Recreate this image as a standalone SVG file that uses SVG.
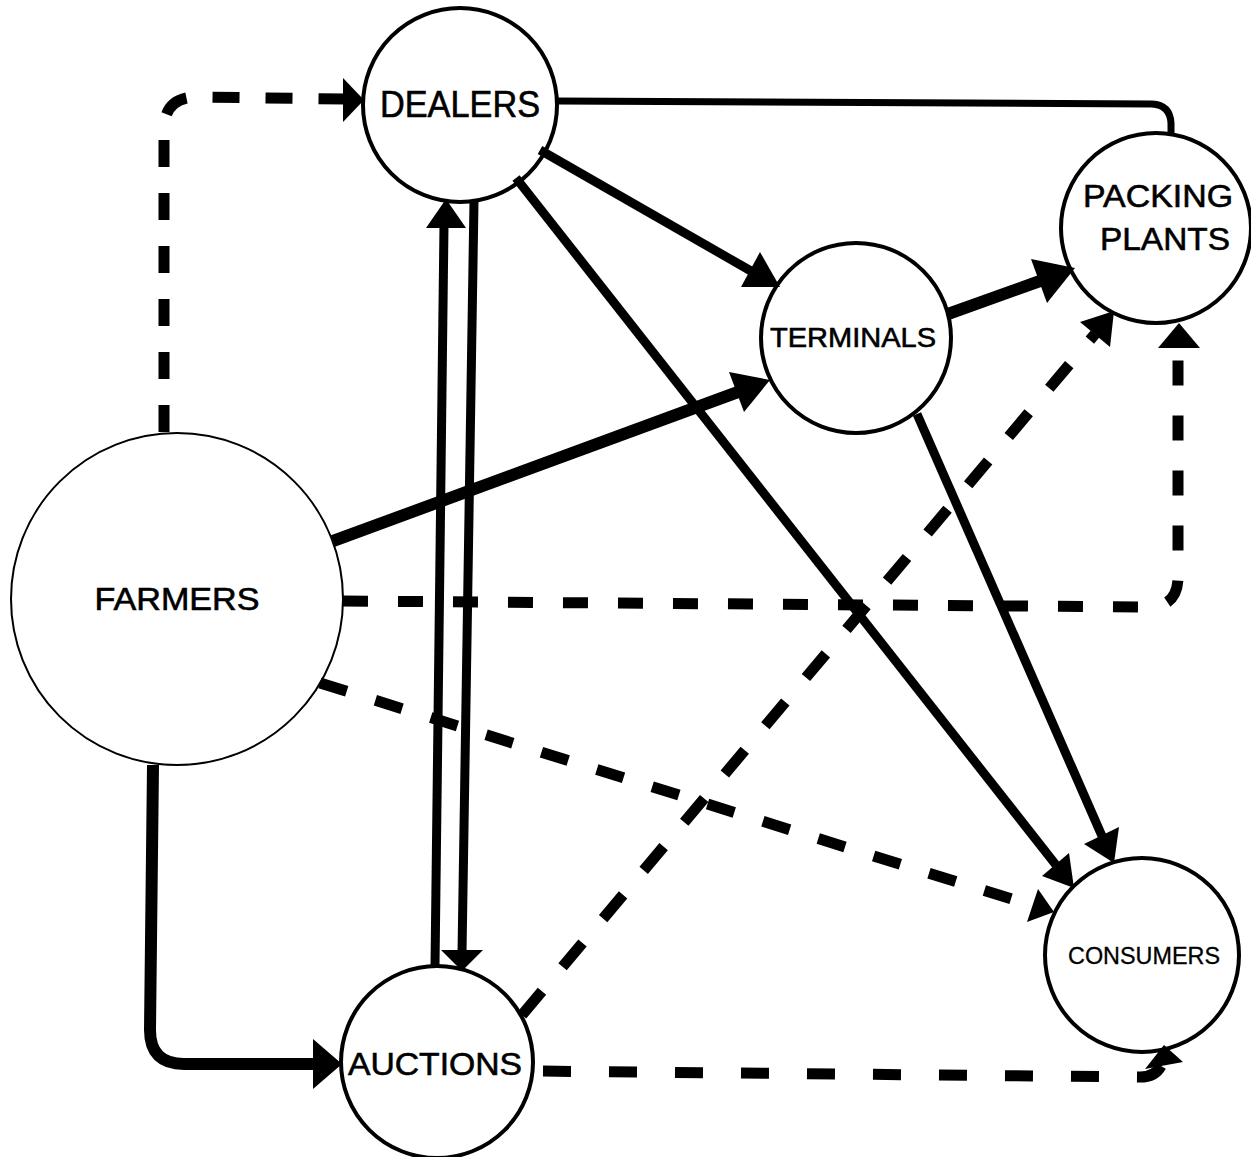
<svg xmlns="http://www.w3.org/2000/svg" width="1251" height="1157" viewBox="0 0 1251 1157">
<style>
.node circle{fill:#fff;stroke:#000;stroke-width:4}
.node text{font-family:"Liberation Sans",Arial,sans-serif;fill:#000;stroke:#000;stroke-width:0.6;text-anchor:middle}
.s{fill:none;stroke:#000;stroke-linecap:butt;stroke-linejoin:round}
.d{fill:none;stroke:#000;stroke-width:11}
.h{fill:#000;stroke:none}
</style>
<rect width="1251" height="1157" fill="#fff"/>
<g id="farmers" class="node">
<circle cx="177" cy="599" r="166" style="stroke-width:2"/>
<text x="177" y="610" font-size="31" textLength="165" lengthAdjust="spacingAndGlyphs">FARMERS</text>
</g>
<g id="dealers" class="node">
<circle cx="460" cy="105" r="97"/>
<text x="460" y="117" font-size="36" textLength="160" lengthAdjust="spacingAndGlyphs">DEALERS</text>
</g>
<g id="terminals" class="node">
<circle cx="856" cy="338" r="95"/>
<text x="853" y="347" font-size="28" textLength="166" lengthAdjust="spacingAndGlyphs">TERMINALS</text>
</g>
<g id="packing-plants" class="node">
<circle cx="1156" cy="228" r="95"/>
<text x="1158" y="207" font-size="32" textLength="150" lengthAdjust="spacingAndGlyphs">PACKING</text>
<text x="1165" y="250" font-size="32" textLength="130" lengthAdjust="spacingAndGlyphs">PLANTS</text>
</g>
<g id="auctions" class="node">
<circle cx="437" cy="1062" r="96"/>
<text x="435" y="1075" font-size="32" textLength="174" lengthAdjust="spacingAndGlyphs">AUCTIONS</text>
</g>
<g id="consumers" class="node">
<circle cx="1142" cy="955" r="97"/>
<text x="1144" y="964" font-size="23" textLength="152" lengthAdjust="spacingAndGlyphs" style="stroke-width:0.3">CONSUMERS</text>
</g>
<g id="connectors">
<!-- Farmers -> Dealers (dashed) -->
<path class="d" d="M164,433 L164,130 Q164,97 197,97 L345,99" stroke-dasharray="27 26" stroke-dashoffset="-1"/>
<polygon class="h" points="364,100 343,78 343,122"/>
<!-- Dealers -> Packing plants -->
<path class="s" stroke-width="7" d="M557,101 L1152,104 Q1170,105 1171,123 L1171,135"/>
<!-- Dealers -> Terminals -->
<line class="s" stroke-width="9" x1="540" y1="150" x2="751" y2="271"/>
<polygon class="h" points="780,287 741,287 760,252"/>
<!-- Farmers -> Terminals -->
<line class="s" stroke-width="12" x1="333" y1="541" x2="738" y2="392"/>
<polygon class="h" points="770,380 744,412 729,372"/>
<!-- Terminals -> Packing plants -->
<line class="s" stroke-width="12" x1="948" y1="314" x2="1040" y2="281"/>
<polygon class="h" points="1075,268 1047,303 1031,259"/>
<!-- Dealers -> Consumers -->
<line class="s" stroke-width="9" x1="516" y1="178" x2="1056" y2="865"/>
<polygon class="h" points="1074,888 1042,876 1069,853"/>
<!-- Terminals -> Consumers -->
<line class="s" stroke-width="9" x1="917" y1="414" x2="1102" y2="836"/>
<polygon class="h" points="1114,863 1084,844 1119,827"/>
<!-- Dealers -> Auctions (down) -->
<line class="s" stroke-width="9" x1="474" y1="201" x2="462" y2="953"/>
<polygon class="h" points="462,971 441,950 483,950"/>
<!-- Auctions -> Dealers (up) -->
<line class="s" stroke-width="9" x1="435" y1="966" x2="444" y2="225"/>
<polygon class="h" points="446,199 426,228 466,228"/>
<!-- Farmers -> Auctions -->
<path class="s" stroke-width="12" d="M153,765 L150,1030 Q150,1064 184,1064 L316,1064"/>
<polygon class="h" points="342,1064 313,1039 313,1089"/>
<!-- Farmers -> Packing plants (dashed) -->
<path class="d" d="M343,601 L1148,607 Q1178,607 1178,577 L1178,348" stroke-dasharray="25 30"/>
<polygon class="h" points="1179,323 1158,348 1200,348"/>
<!-- Auctions -> Packing plants (dashed) -->
<line class="d" x1="522" y1="1015" x2="1095" y2="334" stroke-dasharray="31 32"/>
<polygon class="h" points="1114,311 1110,347 1080,322"/>
<!-- Farmers -> Consumers (dashed) -->
<line class="d" x1="320" y1="683" x2="1034" y2="906" stroke-dasharray="28 30"/>
<polygon class="h" points="1054,912 1027,922 1038,889"/>
<!-- Auctions -> Consumers (dashed) -->
<path class="d" d="M533,1071 L1140,1077 Q1155,1077 1161,1066" stroke-dasharray="28 38" stroke-dashoffset="-10"/>
<polygon class="h" points="1164,1045 1145,1069 1183,1062"/>
</g>
</svg>
